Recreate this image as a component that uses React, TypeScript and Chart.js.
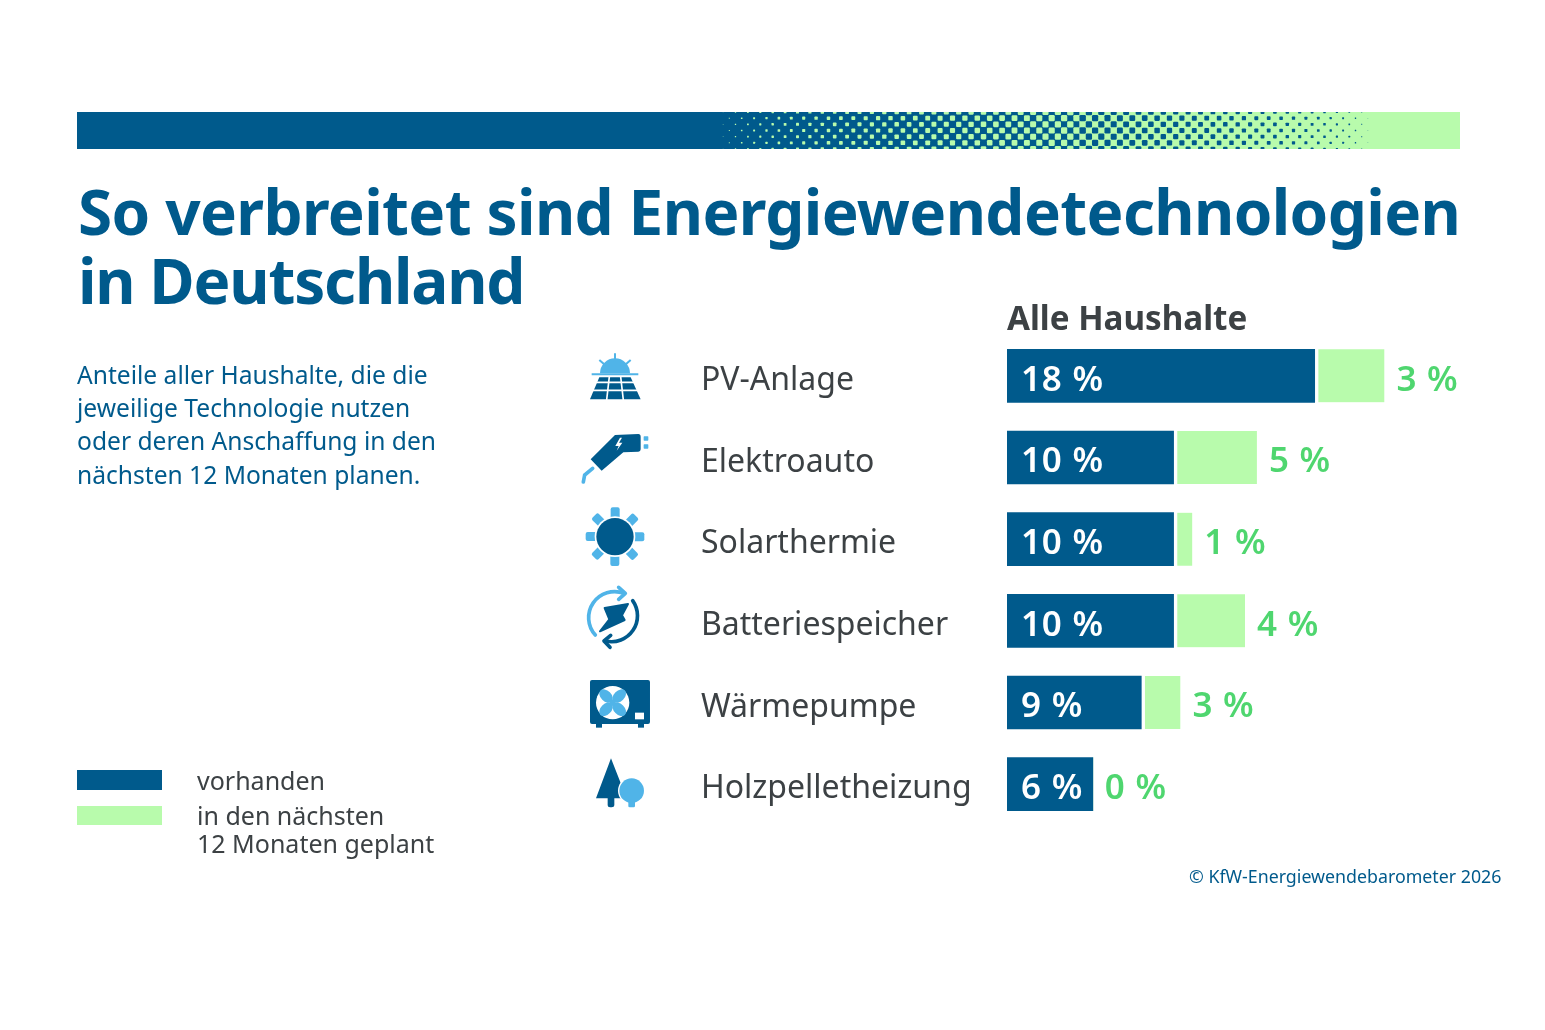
import React, { useEffect, useRef } from 'react'
import { Chart, registerables } from 'chart.js'

Chart.register(...registerables)

const categories = ['PV-Anlage', 'Elektroauto', 'Solarthermie', 'Batteriespeicher', 'Wärmepumpe', 'Holzpelletheizung']
// bar lengths as drawn in the picture (they do not follow the rounded labels exactly)
const vorhanden = [18.1, 9.8, 9.8, 9.8, 7.9, 5.05]
const geplant = [4.1, 4.9, 1.1, 4.2, 2.3, 0]
const vorhandenLabels = ['18 %', '10 %', '10 %', '10 %', '9 %', '6 %']
const geplantLabels = ['3 %', '5 %', '1 %', '4 %', '3 %', '0 %']

const BLUE = '#005a8c'
const LIGHT = '#b8fbac'
const GREEN = '#4fd66f'
const SKY = '#50b4e8'
const GREY = '#3c4144'
const FONT = '"Noto Sans", sans-serif'

const barLabels = {
  id: 'barLabels',
  afterDatasetsDraw(chart: any) {
    const { ctx } = chart
    ctx.save()
    ctx.font = `600 35px ${FONT}`
    ctx.letterSpacing = '0.8px'
    ctx.textBaseline = 'middle'
    ctx.textAlign = 'left'
    chart.getDatasetMeta(0).data.forEach((bar: any, i: number) => {
      ctx.fillStyle = '#ffffff'
      ctx.fillText(vorhandenLabels[i], bar.base + 14, bar.y + 5)
    })
    chart.getDatasetMeta(1).data.forEach((bar: any, i: number) => {
      ctx.fillStyle = GREEN
      ctx.fillText(geplantLabels[i], bar.x + 12, bar.y + 5)
    })
    ctx.restore()
  },
}

function Halftone() {
  const x0 = 720
  const x1 = 1370
  const cw = 6.2
  const ch = 37 / 6
  const midCol = 58
  const mid = x0 + midCol * cw
  const dots = []
  for (let r = 0; r <= 6; r++) {
    const y = 112 + ch * r
    for (let c = 0; c * cw + x0 < x1; c++) {
      const x = x0 + (c + 0.5) * cw
      const even = (c + r) % 2 === 0
      if (c < midCol && even) {
        const s = 6.4 * Math.sqrt((x - x0) / (mid - x0))
        dots.push(<rect key={r + '-' + c} x={x - s / 2} y={y - s / 2} width={s} height={s} rx={s * 0.2} fill={LIGHT} />)
      } else if (c >= midCol && !even) {
        const s = 6.4 * Math.sqrt((x1 - x) / (x1 - mid))
        dots.push(<rect key={r + '-' + c} x={x - s / 2} y={y - s / 2} width={s} height={s} rx={s * 0.2} fill={BLUE} />)
      }
    }
  }
  return (
    <svg width={1545} height={1030} style={{ position: 'absolute', left: 0, top: 0 }}>
      <defs>
        <clipPath id="band">
          <rect x={77} y={112} width={1383} height={37} />
        </clipPath>
        <filter id="soft" x="-2%" y="-20%" width="104%" height="140%">
          <feGaussianBlur stdDeviation={0.5} />
        </filter>
      </defs>
      <rect x={77} y={112} width={mid - 77} height={37} fill={BLUE} />
      <rect x={mid} y={112} width={1460 - mid} height={37} fill={LIGHT} />
      <g clipPath="url(#band)">
        <g filter="url(#soft)">{dots}</g>
      </g>
    </svg>
  )
}

function Icons() {
  const cells = [0, 45, 90, 135, 180, 225, 270, 315]
  return (
    <svg width={1545} height={1030} style={{ position: 'absolute', left: 0, top: 0 }}>
      <g transform="translate(570 340) scale(0.3333)">
        <path d="M90 100 A45 45 0 0 1 180 100 Z" fill={SKY} />
        <path d="M65 103 H205 M135 40 V66 M88 60 L106 76 M182 60 L164 76" stroke={SKY} strokeWidth={6} fill="none" />
        <path d="M88 112 H182 L212 178 H60 Z" fill={BLUE} />
        <path d="M70 127 H200 M60 151 H210 M118 110 L110 180 M152 110 L160 180" stroke="#fff" strokeWidth={5} fill="none" />
        <path d="M135 285 L205 282 Q212 282 212 290 V328 Q212 335 205 335 L160 337 L95 392 L62 358 Z" fill={BLUE} />
        <path d="M150 293 L136 318 H146 L140 332 L157 308 H147 L156 293 Z" fill="#fff" />
        <rect x={221} y={289} width={14} height={13} rx={2} fill={SKY} />
        <rect x={221} y={313} width={14} height={13} rx={2} fill={SKY} />
        <path d="M68 385 L44 405 L40 426" stroke={SKY} strokeWidth={11} fill="none" strokeLinecap="round" />
        {cells.map((a) => (
          <rect key={a} x={122} y={502} width={27} height={34} rx={6} fill={SKY} transform={`rotate(${a} 135 590)`} />
        ))}
        <circle cx={135} cy={590} r={61} fill="#fff" />
        <circle cx={135} cy={590} r={56} fill={BLUE} />
      </g>
      <g transform="translate(570 580) scale(0.3333)">
        <path d="M76 165 A78 78 0 0 1 162 40" stroke={SKY} strokeWidth={11} fill="none" strokeLinecap="round" />
        <path d="M146 22 L166 40 L146 58" stroke={SKY} strokeWidth={11} fill="none" strokeLinecap="round" strokeLinejoin="round" />
        <path d="M188 62 A78 78 0 0 1 106 183" stroke={BLUE} strokeWidth={11} fill="none" strokeLinecap="round" />
        <path d="M122 166 L102 183 L120 202" stroke={BLUE} strokeWidth={11} fill="none" strokeLinecap="round" strokeLinejoin="round" />
        <path d="M104 84 L174 72 L156 106 L164 120 L90 154 L118 118 Z" fill={BLUE} stroke={BLUE} strokeWidth={6} strokeLinejoin="round" />
        <rect x={60} y={300} width={180} height={132} rx={6} fill={BLUE} />
        <rect x={78} y={430} width={18} height={13} fill={BLUE} />
        <rect x={204} y={430} width={18} height={13} fill={BLUE} />
        <circle cx={128} cy={368} r={50} fill="#fff" />
        {[45, 135, 225, 315].map((a) => (
          <ellipse key={a} cx={128} cy={340} rx={16} ry={24} fill={SKY} transform={`rotate(${a} 128 368)`} />
        ))}
        <circle cx={128} cy={368} r={9} fill={SKY} />
        <rect x={195} y={398} width={27} height={20} fill="#fff" />
        <path d="M123 535 L170 655 H133 V676 Q133 682 125 682 H120 Q113 682 113 676 V655 H78 Z" fill={BLUE} strokeLinejoin="round" />
        <circle cx={185} cy={632} r={41} fill="#fff" />
        <circle cx={185} cy={632} r={37} fill={SKY} />
        <rect x={175} y={660} width={20} height={22} rx={4} fill={SKY} />
      </g>
    </svg>
  )
}

const abs = (left: number, top: number, extra: React.CSSProperties): React.CSSProperties => ({
  position: 'absolute',
  left,
  top,
  fontFamily: FONT,
  whiteSpace: 'nowrap',
  ...extra,
})

function App() {
  const ref = useRef<HTMLCanvasElement>(null)

  useEffect(() => {
    const ctx = ref.current
    if (!ctx) {
      return
    }

    const chart = new Chart(ctx, {
      type: 'bar',
      data: {
        labels: categories,
        datasets: [
          { label: 'vorhanden', data: vorhanden, backgroundColor: BLUE, barThickness: 53 },
          {
            label: 'in den nächsten 12 Monaten geplant',
            data: geplant,
            backgroundColor: LIGHT,
            borderColor: '#ffffff',
            borderWidth: { left: 4, top: 0, right: 0, bottom: 0 },
            borderSkipped: false,
            barThickness: 53,
          },
        ],
      },
      options: {
        indexAxis: 'y',
        responsive: false,
        animation: false,
        layout: { padding: { left: 701, right: 28, top: 335, bottom: 205 } },
        plugins: { legend: { display: false }, tooltip: { enabled: false } },
        scales: {
          x: { stacked: true, display: false, min: 0, max: 30 },
          y: {
            stacked: true,
            afterFit: (scale: any) => {
              scale.width = 306
            },
            grid: { display: false, drawTicks: false },
            border: { display: false },
            ticks: {
              crossAlign: 'far',
              color: GREY,
              padding: 0,
              // empty first line pushes the label down by half the line height
              callback: (_v: any, i: number) => ['', categories[i]],
              font: { family: FONT, size: 32, weight: 400, lineHeight: '10px' },
            },
          },
        },
      },
      plugins: [barLabels],
    })

    return () => {
      chart.destroy()
    }
  }, [])

  return (
    <div style={{ position: 'absolute', left: 0, top: 0, width: 1545, height: 1030, background: '#fff', overflow: 'hidden' }}>
      <canvas ref={ref} width={1545} height={1030} style={{ position: 'absolute', left: 0, top: 0 }} />
      <Halftone />
      <Icons />
      <div style={abs(78, 177, { fontSize: 62, fontWeight: 700, lineHeight: '69px', color: BLUE })}>
        <span style={{ letterSpacing: -0.63 }}>So verbreitet sind Energiewendetechnologien</span>
        <br />
        <span style={{ letterSpacing: -1.2 }}>in Deutschland</span>
      </div>
      <div style={abs(1007, 295, { fontSize: 33.2, fontWeight: 700, lineHeight: '46px', color: GREY })}>Alle Haushalte</div>
      <div style={abs(77, 358, { fontSize: 24.6, lineHeight: '33.2px', color: BLUE })}>
        Anteile aller Haushalte, die die
        <br />
        jeweilige Technologie nutzen
        <br />
        oder deren Anschaffung in den
        <br />
        nächsten 12 Monaten planen.
      </div>
      <div style={{ position: 'absolute', left: 77, top: 770, width: 85, height: 20, background: BLUE }} />
      <div style={{ position: 'absolute', left: 77, top: 806, width: 85, height: 19, background: LIGHT }} />
      <div style={abs(197, 763, { fontSize: 25, lineHeight: '34px', color: GREY })}>vorhanden</div>
      <div style={abs(197, 801, { fontSize: 25, lineHeight: '28px', color: GREY })}>
        in den nächsten
        <br />
        12 Monaten geplant
      </div>
      <div style={abs(1189, 863, { fontSize: 17.8, lineHeight: '26px', color: BLUE })}>© KfW-Energiewendebarometer 2026</div>
    </div>
  )
}

export default App
